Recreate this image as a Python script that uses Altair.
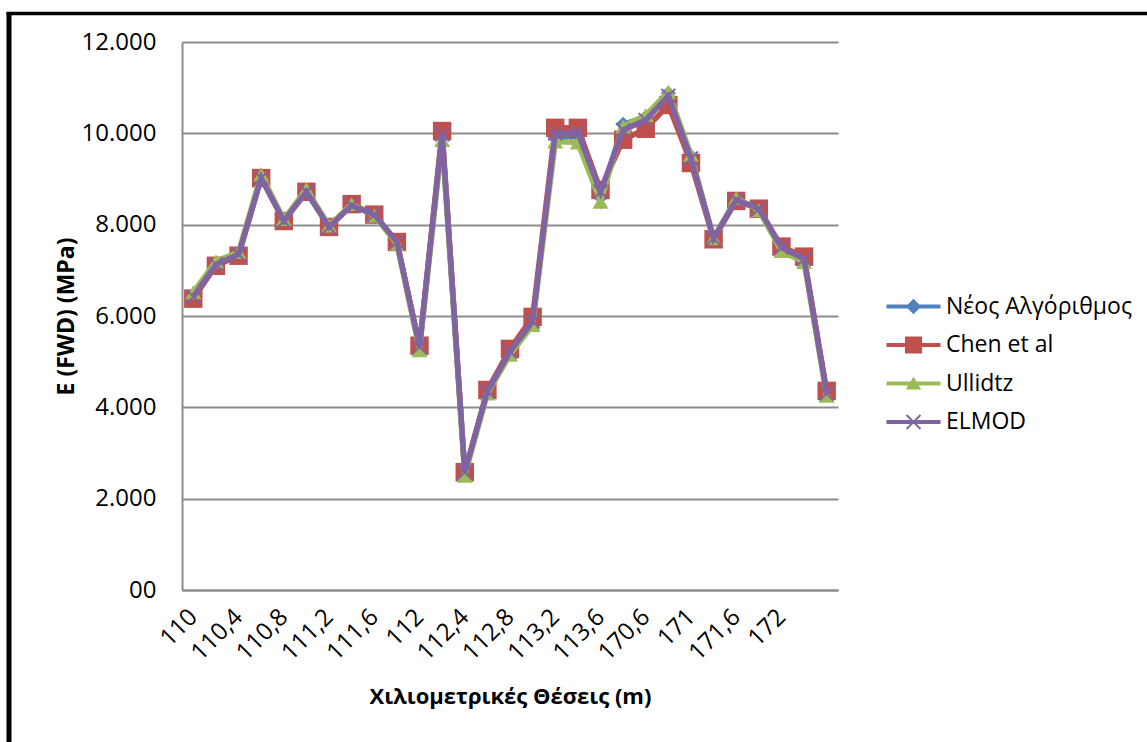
import json
import altair as alt
import pandas as pd

# Category labels (Χιλιομετρικές Θέσεις)
positions = ["110", "110,2", "110,4", "110,6", "110,8", "111", "111,2", "111,4",
             "111,6", "111,8", "112", "112,2", "112,4", "112,6", "112,8", "113",
             "113,2", "113,4", "113,6", "113,8", "170,6", "170,8", "171", "171,4",
             "171,6", "171,8", "172", "172,2", "172,4"]

series_names = ["Νέος Αλγόριθμος", "Chen et al", "Ullidtz", "ELMOD"]

neos = [6450, 7150, 7350, 9050, 8100, 8740, 7960, 8430, 8220, 7620, 5320, 9950, 2560, 4350,
        5220, 5900, 9900, 9950, 8600, 10200, 10350, 10880, 9500, 7700, 8550, 8350, 7480, 7250, 4300]
chen = [6380, 7100, 7320, 9020, 8080, 8720, 7950, 8450, 8220, 7620, 5350, 10050, 2580, 4380,
        5280, 5980, 10120, 10120, 8760, 9860, 10100, 10620, 9350, 7680, 8520, 8350, 7520, 7300, 4360]
ullidtz = [6520, 7200, 7400, 9100, 8120, 8780, 7980, 8450, 8200, 7580, 5250, 9850, 2500, 4300,
           5150, 5800, 9820, 9800, 8500, 10150, 10400, 10910, 9530, 7700, 8580, 8320, 7420, 7180, 4250]
elmod = [6420, 7130, 7350, 9020, 8080, 8720, 7950, 8420, 8220, 7620, 5320, 9980, 2580, 4350,
         5220, 5880, 10000, 10020, 8720, 10070, 10290, 10820, 9450, 7700, 8540, 8350, 7500, 7250, 4300]

y_ticks = [0, 2000, 4000, 6000, 8000, 10000, 12000]
x_label_idx = list(range(1, 28, 2))

all_values = [neos, chen, ullidtz, elmod]
colors = ["#4F81BD", "#C0504D", "#9BBB59", "#8064A2"]

rows = []
for name, vals in zip(series_names, all_values):
    for i, v in enumerate(vals):
        rows.append({"idx": i + 1, "pos": positions[i], "series": name, "E": v})
df = pd.DataFrame(rows)

FONT = "Open Sans"

x_enc = alt.X("idx:Q",
              scale=alt.Scale(domain=[0.5, len(positions) + 0.5], nice=False, zero=False),
              axis=alt.Axis(values=x_label_idx,
                            labelExpr=json.dumps(positions, ensure_ascii=False) + "[datum.value - 1]",
                            labelAngle=-45, labelAlign="right", labelBaseline="middle",
                            labelPadding=23, labelFontSize=24, labelFont=FONT,
                            labelColor="#000000", labelOverlap=False,
                            grid=False, ticks=False, domainColor="#8c8c8c", domainWidth=2,
                            title="Χιλιομετρικές Θέσεις (m)", titleFont=FONT,
                            titleFontSize=22, titleFontWeight="bold", titleColor="#000000",
                            titlePadding=22))
y_enc = alt.Y("E:Q",
              scale=alt.Scale(domain=[0, 12000], nice=False),
              axis=alt.Axis(values=y_ticks,
                            labelExpr="datum.value == 0 ? '00' : replace(format(datum.value, ','), ',', '.')",
                            labelFontSize=24, labelFont=FONT, labelColor="#000000", labelPadding=26,
                            grid=True, gridColor="#8c8c8c", gridWidth=2,
                            ticks=False, domainColor="#8c8c8c", domainWidth=2,
                            title="E (FWD) (MPa)", titleFont=FONT, titleFontSize=23,
                            titleFontWeight="bold", titleColor="#000000", titlePadding=3))

base = alt.Chart(df)

marker_shapes = ["diamond", "square", "triangle-up", "M-1,-1L1,1M-1,1L1,-1"]
marker_sizes = [225, 340, 256, 196]

layers = []
for k, name in enumerate(series_names):
    sub = base.transform_filter(alt.datum.series == name)
    line = sub.mark_line(strokeWidth=5.5, color=colors[k]).encode(x=x_enc, y=y_enc)
    layers.append(line)
    if k == 3:
        pts = sub.mark_point(filled=False, shape=marker_shapes[k], size=marker_sizes[k],
                             stroke=colors[k], strokeWidth=2, opacity=1).encode(x="idx:Q", y="E:Q")
    else:
        pts = sub.mark_point(filled=True, shape=marker_shapes[k], size=marker_sizes[k],
                             fill=colors[k], strokeWidth=0, opacity=1).encode(x="idx:Q", y="E:Q")
    layers.append(pts)

# Legend symbols: line segment + marker, as custom paths
line_seg = "M-1.2,-0.09H1.2V0.09H-1.2Z"
legend_paths = [
    line_seg + "M0,-0.34L0.34,0L0,0.34L-0.34,0Z",
    line_seg + "M-0.38,-0.38H0.38V0.38H-0.38Z",
    line_seg + "M0,-0.31L0.34,0.27L-0.34,0.27Z",
    line_seg + "M-0.279,-0.341L0.341,0.279L0.279,0.341L-0.341,-0.279Z"
             + "M0.279,-0.341L0.341,-0.279L-0.279,0.341L-0.341,0.279Z",
]

def make_legend():
    return alt.Legend(title=None, orient="none", legendX=709, legendY=242,
                      symbolSize=2025, symbolOpacity=1, symbolStrokeWidth=0,
                      labelFont=FONT, labelFontSize=23, labelColor="#000000",
                      labelOffset=10, labelLimit=400, rowPadding=3.5, padding=0)

legend_layer = base.mark_point(filled=True, opacity=0).encode(
    x="idx:Q", y="E:Q",
    fill=alt.Fill("series:N", scale=alt.Scale(domain=series_names, range=colors), legend=make_legend()),
    shape=alt.Shape("series:N", scale=alt.Scale(domain=series_names, range=legend_paths), legend=make_legend()),
)
layers.append(legend_layer)

# Outer chart frame (decoration)
frame_left = alt.Chart(pd.DataFrame({"a": [0]})).mark_rule(color="#000000", strokeWidth=5).encode(
    x=alt.value(-173), y=alt.value(-30), y2=alt.value(720))
frame_top = alt.Chart(pd.DataFrame({"a": [0]})).mark_rule(color="#000000", strokeWidth=3.5).encode(
    x=alt.value(-175.5), x2=alt.value(980), y=alt.value(-28.5))
layers.append(frame_left)
layers.append(frame_top)

chart = alt.layer(*layers).properties(
    width=656, height=548,
    autosize=alt.AutoSizeParams(type="none"),
    padding={"left": 182, "top": 42, "right": 309, "bottom": 152},
    background="#ffffff",
).configure_view(stroke=None)

chart.save("out.html", embed_options={"renderer": "svg", "actions": False})
